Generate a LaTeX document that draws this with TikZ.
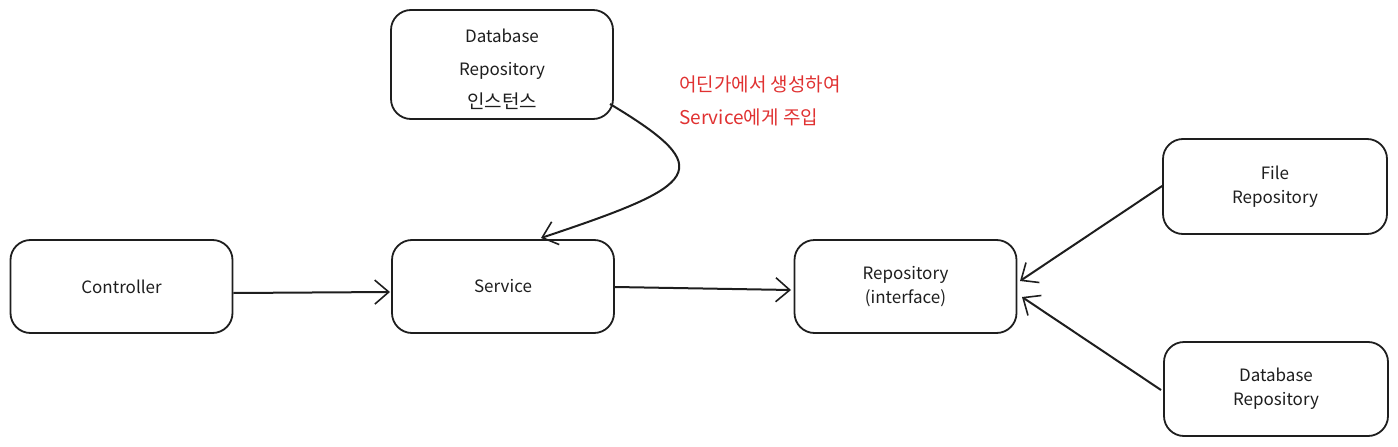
\documentclass[tikz,border=0pt]{standalone}
\usepackage{fontspec}
\setmainfont{Noto Sans CJK KR}
\usetikzlibrary{arrows.meta}
\definecolor{ink}{HTML}{1E1E1E}
\definecolor{redink}{HTML}{E03131}
\begin{document}
\begin{tikzpicture}[x=1pt,y=-1pt,
  box/.style={draw=ink, line width=1.8pt, rounded corners=20pt, minimum width=222pt, align=center, text=ink, font=\fontsize{17}{24}\selectfont, inner sep=0pt},
  conn/.style={draw=ink, line width=2pt, -{Straight Barb[length=14pt,width=24pt,line width=1.6pt]}},
  note/.style={text=redink, font=\fontsize{19}{33}\selectfont, align=left, anchor=west, inner sep=0pt}]
\useasboundingbox (0,0) rectangle (1398,447);
\node[box, minimum height=93pt] (ctrl) at (121.5,286.5) {Controller};
\node[box, minimum height=93pt] (svc) at (503,286.5) {Service};
\node[box, minimum height=93pt] (repo) at (905.5,286.5) {Repository\\(interface)};
\node[box, minimum height=109pt, font=\fontsize{17}{33}\selectfont] (dbi) at (502,64.5) {};
\node[text=ink, align=center, font=\fontsize{17}{33}\selectfont, inner sep=0pt] (dbit) at (502,69) {Database\\Repository\\{\fontsize{19}{33}\selectfont 인스턴스}};
\node[box, minimum width=224pt, minimum height=95pt] (file) at (1275,186.5) {File\\Repository};
\node[box, minimum width=224pt, minimum height=94pt] (db) at (1276,389) {Database\\Repository};
\node[note] (txt) at (679,101) {어딘가에서 생성하여\\Service에게 주입};
\draw[conn] (ctrl.east |- 0,293) -- (390,292) coordinate (c1);
\draw[conn] (svc.east |- 0,287) -- (791,290) coordinate (c2);
\coordinate (s1) at (610,104);
\draw[conn] (s1) .. controls (720,170) and (700,185) .. (541,238) coordinate (c3);
\draw[conn] (file.west |- 0,186) -- (1020,281) coordinate (c4);
\draw[conn] (1161,390) coordinate (s5) -- (1022,297) coordinate (c5);
\end{tikzpicture}
\end{document}
